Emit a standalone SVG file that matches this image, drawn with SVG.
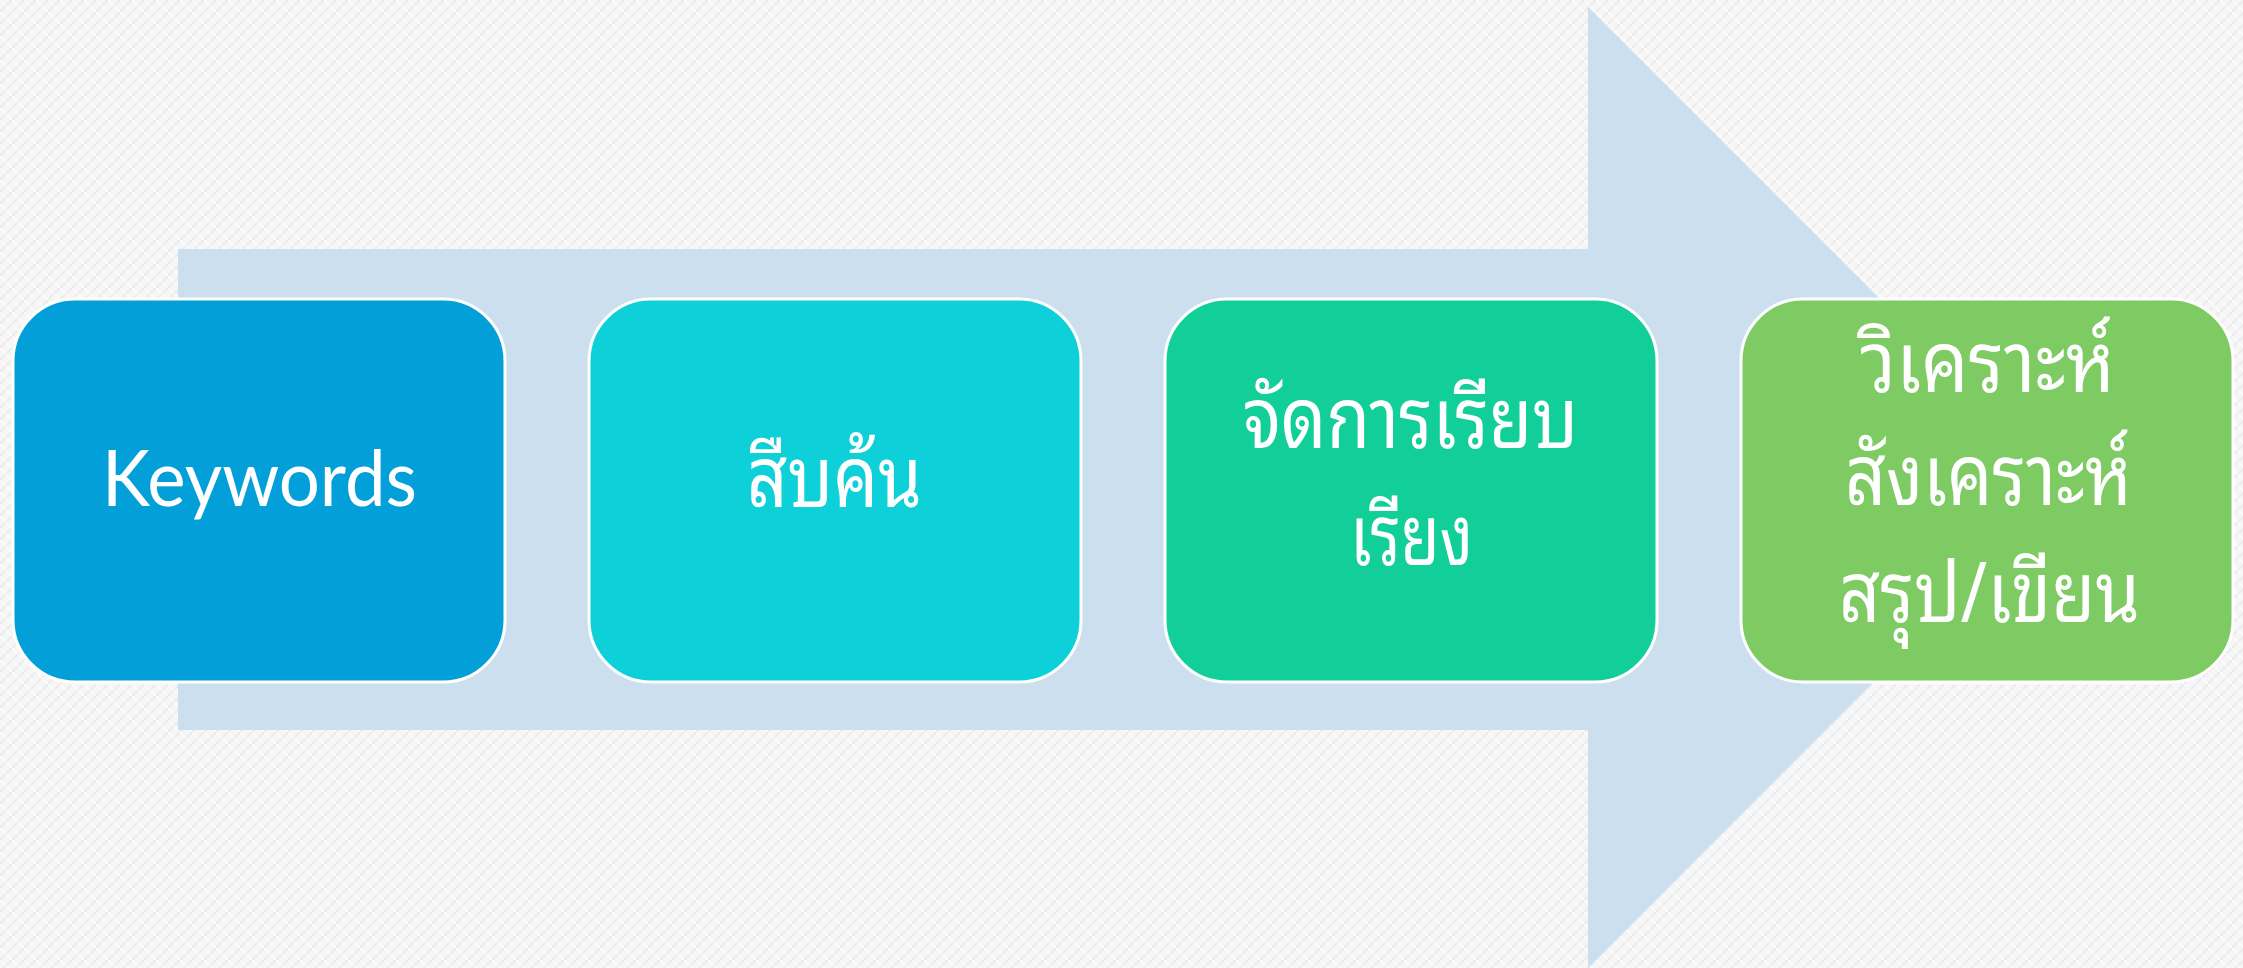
<svg xmlns="http://www.w3.org/2000/svg" width="2243" height="968" viewBox="0 0 2243 968">
<defs>
<pattern id="tex" width="12" height="12" patternUnits="userSpaceOnUse">
<rect width="12" height="12" fill="#f6f6f6"/>
<path d="M0 12 L12 0 M-3 3 L3 -3 M9 15 L15 9" stroke="#ececec" stroke-width="2"/>
<path d="M0 0 L12 12" stroke="#fbfbfb" stroke-width="1.5"/>
</pattern>
<style>
.box{stroke:#ffffff;stroke-width:3}
.lbl{fill:#ffffff;font-family:"Noto Sans Thai Looped","Noto Sans Thai","DejaVu Sans",sans-serif;font-size:84px;text-anchor:middle}
.en{font-family:"Lato","Open Sans","Noto Sans",sans-serif;font-size:78px}
</style>
</defs>
<rect width="2243" height="968" fill="url(#tex)"/>
<g id="arrow">
<polygon points="178,249 1588,249 1588,7 2068,487 1588,968 1588,730 178,730" fill="#cbdfef"/>
</g>
<g id="connectors"></g>
<g id="node1">
<rect class="box" x="13" y="299" width="492" height="383" rx="62" fill="#039fd9"/>
<text class="lbl en" x="259.5" y="506" textLength="315" lengthAdjust="spacingAndGlyphs">Keywords</text>
</g>
<g id="node2">
<rect class="box" x="589" y="299" width="492" height="383" rx="62" fill="#0dd0d8"/>
<text class="lbl" x="834.5" y="507" textLength="175" lengthAdjust="spacingAndGlyphs">สืบค้น</text>
</g>
<g id="node3">
<rect class="box" x="1165" y="299" width="492" height="383" rx="62" fill="#12cf9a"/>
<text class="lbl" x="1410.5" y="448" textLength="335" lengthAdjust="spacingAndGlyphs">จัดการเรียบ</text>
<text class="lbl" x="1411.5" y="565" textLength="123" lengthAdjust="spacingAndGlyphs">เรียง</text>
</g>
<g id="node4">
<rect class="box" x="1741" y="299" width="492" height="383" rx="62" fill="#7ecb63"/>
<text class="lbl" x="1987.5" y="392" textLength="255" lengthAdjust="spacingAndGlyphs">วิเคราะห์</text>
<text class="lbl" x="1988.5" y="505" textLength="287" lengthAdjust="spacingAndGlyphs">สังเคราะห์</text>
<text class="lbl" x="1989.5" y="622" textLength="301" lengthAdjust="spacingAndGlyphs">สรุป/เขียน</text>
</g>
</svg>
